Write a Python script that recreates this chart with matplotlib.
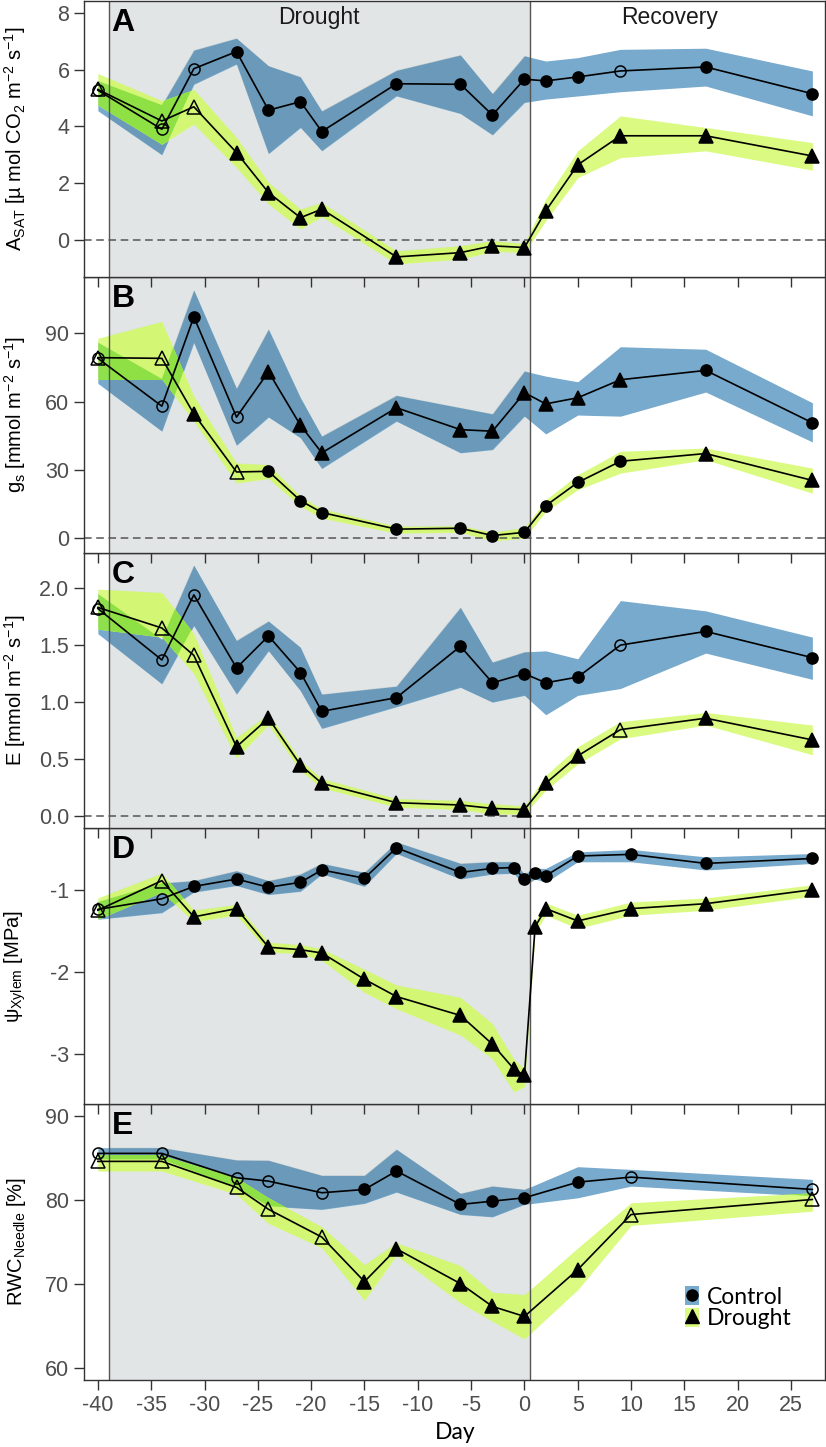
import matplotlib
matplotlib.use('Agg')
import matplotlib.pyplot as plt
from matplotlib.patches import Patch
from matplotlib.lines import Line2D

plt.rcParams['font.family'] = ['Liberation Sans', 'DejaVu Sans']
plt.rcParams['mathtext.default'] = 'regular'
plt.rcParams['axes.unicode_minus'] = False

# sampling days
days = [-40, -34, -31, -27, -24, -21, -19, -12, -6, -3, 0, 2, 5, 9, 17, 27]
days_psi = [-40, -34, -31, -27, -24, -21, -19, -15, -12, -6, -3, -1, 0, 1, 2, 5, 10, 17, 27]
days_rwc = [-40, -34, -27, -24, -19, -15, -12, -6, -3, 0, 5, 10, 27]

# marker codes: c filled circle, C open circle, t filled triangle, T open triangle
# A - A_SAT
a_ctrl = [5.27, 3.90, 6.03, 6.63, 4.57, 4.87, 3.82, 5.50, 5.48, 4.40, 5.66, 5.60, 5.74, 5.95, 6.09, 5.15]
a_ctrl_lo = [4.55, 3.0, 5.48, 6.19, 3.04, 3.96, 3.14, 5.07, 4.45, 3.70, 4.84, 4.96, 5.07, 5.22, 5.42, 4.37]
a_ctrl_hi = [5.6, 4.75, 6.68, 7.1, 6.13, 5.74, 4.54, 5.97, 6.51, 5.15, 6.48, 6.30, 6.42, 6.71, 6.75, 5.95]
a_ctrl_mk = "CCCccccccccccCcc"
a_dro = [5.30, 4.19, 4.69, 3.08, 1.67, 0.79, 1.09, -0.59, -0.44, -0.20, -0.26, 1.03, 2.65, 3.67, 3.67, 2.96]
a_dro_lo = [4.75, 3.37, 4.08, 2.55, 1.27, 0.39, 0.82, -0.84, -0.67, -0.40, -0.44, 0.68, 2.2, 2.9, 3.14, 2.46]
a_dro_hi = [5.86, 4.90, 5.30, 3.61, 2.03, 1.09, 1.32, -0.38, -0.20, -0.02, -0.12, 1.45, 3.14, 4.37, 3.96, 3.43]
a_dro_mk = "TTTttttttttttttt"

# B - gs
b_ctrl = [79.0, 58.0, 97.2, 53.2, 73.1, 49.6, 37.5, 57.3, 47.7, 47.0, 63.9, 59.0, 61.7, 69.6, 73.7, 50.7]
b_ctrl_lo = [68, 47.0, 85.9, 40.8, 53.2, 44.1, 30.6, 51.4, 37.5, 38.9, 53.6, 45.8, 54.1, 53.6, 64.2, 42.3]
b_ctrl_hi = [86, 70, 109, 65.8, 91.8, 61.7, 44.8, 62.7, 57.3, 54.6, 73.4, 71.2, 68.7, 84.1, 83.0, 59.5]
b_ctrl_mk = "CCcCttttttttttcc"
b_dro = [79.3, 79.0, 54.6, 29.1, 29.4, 16.5, 11.3, 4.0, 4.4, 1.2, 2.6, 14.3, 24.5, 33.8, 37.2, 25.4]
b_dro_lo = [69.8, 69.8, 51.4, 24.2, 26.2, 14.0, 8.8, 2.2, 2.6, -1.2, 0.0, 11.8, 21.3, 28.6, 34.5, 19.8]
b_dro_hi = [87.8, 95.2, 62.4, 33.0, 32.3, 18.4, 12.9, 5.2, 5.5, 2.6, 4.7, 16.9, 27.9, 38.2, 39.6, 30.8]
b_dro_mk = "TTtTcccccccccctt"

# C - E
c_ctrl = [1.82, 1.37, 1.94, 1.30, 1.58, 1.26, 0.92, 1.04, 1.49, 1.17, 1.25, 1.17, 1.22, 1.50, 1.62, 1.39]
c_ctrl_lo = [1.60, 1.16, 1.67, 1.07, 1.45, 1.10, 0.77, 0.96, 1.13, 1.00, 1.06, 0.89, 1.06, 1.12, 1.43, 1.20]
c_ctrl_hi = [1.95, 1.55, 2.20, 1.54, 1.71, 1.48, 1.07, 1.14, 1.83, 1.35, 1.44, 1.45, 1.38, 1.89, 1.80, 1.57]
c_ctrl_mk = "CCCccccccccccCcc"
c_dro = [1.83, 1.65, 1.41, 0.61, 0.86, 0.45, 0.29, 0.12, 0.10, 0.07, 0.06, 0.29, 0.53, 0.76, 0.86, 0.67]
c_dro_lo = [1.64, 1.57, 1.25, 0.51, 0.80, 0.40, 0.25, 0.08, 0.06, 0.02, 0.02, 0.23, 0.46, 0.68, 0.80, 0.54]
c_dro_hi = [1.99, 1.96, 1.60, 0.69, 0.90, 0.49, 0.33, 0.155, 0.14, 0.11, 0.09, 0.36, 0.61, 0.83, 0.91, 0.80]
c_dro_mk = "TTTttttttttttTtt"

# D - psi xylem
d_ctrl = [-1.24, -1.11, -0.96, -0.87, -0.97, -0.91, -0.76, -0.86, -0.49, -0.79, -0.74, -0.73, -0.87, -0.80, -0.83, -0.59, -0.57, -0.68, -0.62]
d_ctrl_lo = [-1.36, -1.28, -1.03, -0.95, -1.06, -1.02, -0.81, -0.96, -0.56, -0.87, -0.81, -0.80, -0.95, -0.87, -0.91, -0.66, -0.66, -0.76, -0.68]
d_ctrl_hi = [-1.15, -0.92, -0.89, -0.77, -0.89, -0.81, -0.68, -0.79, -0.42, -0.68, -0.66, -0.66, -0.81, -0.74, -0.74, -0.54, -0.51, -0.60, -0.56]
d_ctrl_mk = "CCccccccccccccccccc"
d_dro = [-1.25, -0.89, -1.33, -1.23, -1.70, -1.73, -1.77, -2.09, -2.30, -2.53, -2.88, -3.18, -3.26, -1.45, -1.23, -1.38, -1.23, -1.17, -1.00]
d_dro_lo = [-1.36, -1.03, -1.39, -1.31, -1.76, -1.78, -1.86, -2.25, -2.45, -2.77, -3.06, -3.46, -3.40, -1.52, -1.31, -1.47, -1.31, -1.25, -1.08]
d_dro_hi = [-1.10, -0.80, -1.25, -1.18, -1.64, -1.67, -1.72, -1.97, -2.16, -2.31, -2.63, -3.06, -3.18, -1.38, -1.16, -1.31, -1.15, -1.10, -0.94]
d_dro_mk = "TTttttttttttttttttt"

# E - RWC needle
e_ctrl = [85.55, 85.55, 82.66, 82.25, 80.87, 81.26, 83.45, 79.48, 79.87, 80.27, 82.13, 82.73, 81.26]
e_ctrl_lo = [84.84, 84.84, 81.47, 79.27, 78.88, 79.6, 80.94, 78.28, 78.0, 79.48, 80.27, 81.66, 80.47]
e_ctrl_hi = [86.23, 86.23, 84.76, 84.72, 82.93, 82.93, 86.03, 80.79, 81.66, 81.26, 83.97, 83.65, 82.46]
e_ctrl_mk = "CCCCCccccccCC"
e_dro = [84.6, 84.6, 81.5, 78.9, 75.6, 70.3, 74.2, 70.06, 67.35, 66.16, 71.73, 78.28, 80.07]
e_dro_lo = [83.45, 83.45, 80.67, 77.21, 74.31, 68.07, 73.40, 67.76, 65.57, 63.47, 69.34, 76.98, 78.68]
e_dro_hi = [85.32, 85.32, 82.66, 80.27, 76.82, 72.32, 74.91, 72.2, 69.02, 68.75, 74.31, 79.68, 80.87]
e_dro_mk = "TTTTTttttttTT"

BLUE = '#78aacd'
YELLOW = '#dafa82'
GREEN = '#8ee04c'
SHADE = '#e1e5e6'
TICKGREY = '#4d4d4d'


def draw_markers(ax, x, y, codes):
    for code, marker, filled in [('c', 'o', True), ('C', 'o', False), ('t', '^', True), ('T', '^', False)]:
        xs = [xi for xi, k in zip(x, codes) if k == code]
        ys = [yi for yi, k in zip(y, codes) if k == code]
        if not xs:
            continue
        ms = 8 if marker == 'o' else 9.5
        ax.plot(xs, ys, ls='none', marker=marker, ms=ms, mec='k',
                mfc='k' if filled else 'none', mew=1.1, zorder=4)


def panel(ax, x, c, clo, chi, cmk, d, dlo, dhi, dmk):
    ax.axvspan(-39, 0.5, color=SHADE, lw=0, zorder=0.5)
    cb = ax.fill_between(x, clo, chi, color=BLUE, lw=0, zorder=1)
    # drought period darkens the blue band a bit
    dark = ax.axvspan(-39, 0.5, color=(0.02, 0.15, 0.18), alpha=0.12, lw=0, zorder=1.05)
    dark.set_clip_path(cb.get_paths()[0], ax.transData)
    yb = ax.fill_between(x, dlo, dhi, color=YELLOW, lw=0, zorder=1.1)
    g = ax.fill_between(x, dlo, dhi, color=GREEN, lw=0, zorder=1.2)
    g.set_clip_path(cb.get_paths()[0], ax.transData)
    dark2 = ax.axvspan(-39, 0.5, color=(0.6, 0.9, 0.0), alpha=0.1, lw=0, zorder=1.3)
    dark2.set_clip_path(yb.get_paths()[0], ax.transData)
    ax.axvline(-39, color='#555555', lw=1, zorder=2)
    ax.axvline(0.5, color='#555555', lw=1, zorder=2)
    ax.plot(x, c, color='k', lw=1.2, zorder=3)
    ax.plot(x, d, color='k', lw=1.2, zorder=3)
    draw_markers(ax, x, c, cmk)
    draw_markers(ax, x, d, dmk)


fig, axes = plt.subplots(5, 1, figsize=(8.26, 14.47), dpi=100, sharex=True,
                         gridspec_kw=dict(hspace=0))
fig.subplots_adjust(left=0.1017, right=0.999, top=0.9993, bottom=0.0463)

panel(axes[0], days, a_ctrl, a_ctrl_lo, a_ctrl_hi, a_ctrl_mk, a_dro, a_dro_lo, a_dro_hi, a_dro_mk)
panel(axes[1], days, b_ctrl, b_ctrl_lo, b_ctrl_hi, b_ctrl_mk, b_dro, b_dro_lo, b_dro_hi, b_dro_mk)
panel(axes[2], days, c_ctrl, c_ctrl_lo, c_ctrl_hi, c_ctrl_mk, c_dro, c_dro_lo, c_dro_hi, c_dro_mk)
panel(axes[3], days_psi, d_ctrl, d_ctrl_lo, d_ctrl_hi, d_ctrl_mk, d_dro, d_dro_lo, d_dro_hi, d_dro_mk)
panel(axes[4], days_rwc, e_ctrl, e_ctrl_lo, e_ctrl_hi, e_ctrl_mk, e_dro, e_dro_lo, e_dro_hi, e_dro_mk)

for ax in axes[:3]:
    ax.axhline(0, color='#555555', lw=1.1, dashes=(5, 3), zorder=2)

ylims = [(-1.29, 8.41), (-6.3, 114.8), (-0.105, 2.31), (-3.61, -0.254), (58.6, 91.4)]
yticks = [[0, 2, 4, 6, 8], [0, 30, 60, 90], [0.0, 0.5, 1.0, 1.5, 2.0], [-3, -2, -1], [60, 70, 80, 90]]
ylabels = ['A$_{SAT}$ [µ mol CO$_2$ m$^{-2}$ s$^{-1}$]',
           'g$_s$ [mmol m$^{-2}$ s$^{-1}$]',
           'E [mmol m$^{-2}$ s$^{-1}$]',
           'ψ$_{Xylem}$ [MPa]',
           'RWC$_{Needle}$ [%]']
letters = ['A', 'B', 'C', 'D', 'E']

for i, ax in enumerate(axes):
    ax.set_zorder(10 - i)
    ax.set_xlim(-41.3, 28.2)
    ax.set_ylim(*ylims[i])
    ax.set_yticks(yticks[i])
    if i == 2:
        ax.set_yticklabels(['%.1f' % v for v in yticks[i]])
    ax.set_xticks(range(-40, 30, 5))
    ax.tick_params(direction='out', length=7, width=1, color='#333333',
                   labelsize=15.5, labelcolor=TICKGREY)
    for s in ax.spines.values():
        s.set_color('#333333')
        s.set_linewidth(1)
    ax.set_ylabel(ylabels[i], fontsize=14.5)
    ax.yaxis.set_label_coords(-0.076, 0.5)
    ax.text(0.037, 0.975, letters[i], transform=ax.transAxes, fontsize=23,
            fontweight='bold', va='top', ha='left', zorder=6)

axes[0].text(-19.3, 0.94, 'Drought', transform=axes[0].get_xaxis_transform(),
             ha='center', va='center', fontsize=16.5, color='#1a1a1a')
axes[0].text(13.6, 0.94, 'Recovery', transform=axes[0].get_xaxis_transform(),
             ha='center', va='center', fontsize=16.5, color='#1a1a1a')

handles = [(Patch(facecolor=BLUE, lw=0), Line2D([], [], ls='none', marker='o', ms=8, color='k')),
           (Patch(facecolor=YELLOW, lw=0), Line2D([], [], ls='none', marker='^', ms=9.5, color='k'))]
axes[4].legend(handles, ['Control', 'Drought'], loc='center left', bbox_to_anchor=(0.811, 0.262),
               frameon=False, borderpad=0, borderaxespad=0, handlelength=0.6, handleheight=0.9,
               handletextpad=0.35, labelspacing=0.0, prop={'family': 'Lato', 'size': 16.5})

fig.text(0.551, 0.0097, 'Day', ha='center', va='center', fontsize=16.5, family='Lato')

fig.savefig('out.png', dpi=100)
